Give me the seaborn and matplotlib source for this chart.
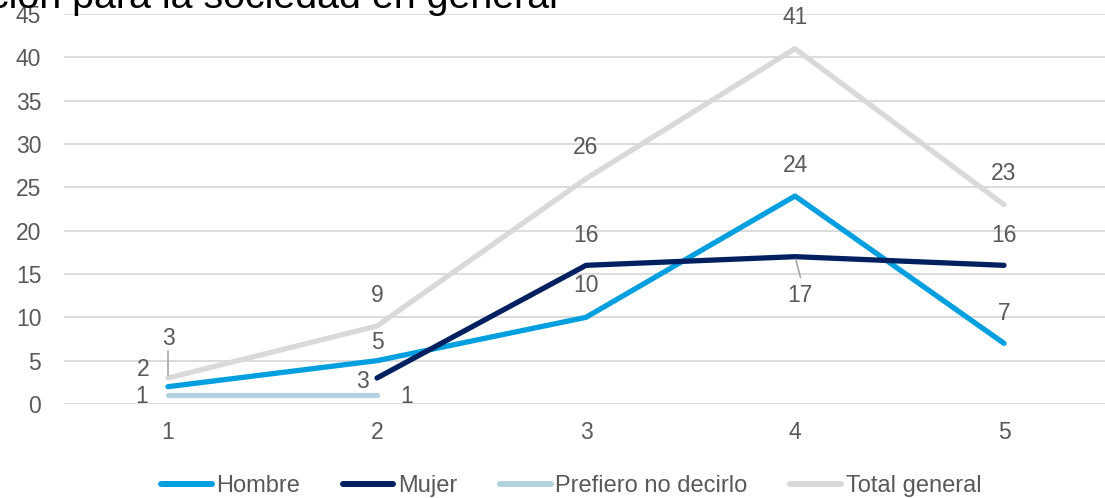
import pandas as pd
import matplotlib.pyplot as plt
import seaborn as sns
import numpy as np

# datos
categorias = [1, 2, 3, 4, 5]
hombre = [2, 5, 10, 24, 7]
mujer = [np.nan, 3, 16, 17, 16]
prefiero = [1, 1, np.nan, np.nan, np.nan]
total = [3, 9, 26, 41, 23]
series = ['Hombre', 'Mujer', 'Prefiero no decirlo', 'Total general']
colores = ['#009FE0', '#00205F', '#B3D2E0', '#D9D9D9']
titulo = 'ción para la sociedad en general'

df = pd.DataFrame({
    'cat': categorias * 4,
    'valor': hombre + mujer + prefiero + total,
    'serie': sum([[s] * 5 for s in series], []),
})

sns.set_style('white')
plt.rcParams['font.family'] = ['Liberation Sans', 'DejaVu Sans']

fig = plt.figure(figsize=(11.05, 4.98), dpi=100)
ax = fig.add_axes([63.5 / 1105, 94 / 498, 1045 / 1105, 390 / 498])

# dibujar en orden de Excel (Total detrás)
orden = ['Total general', 'Prefiero no decirlo', 'Hombre', 'Mujer']
for s in orden:
    sub = df[df.serie == s].dropna()
    sns.lineplot(data=sub, x='cat', y='valor', color=colores[series.index(s)],
                 lw=3.8, ax=ax, solid_capstyle='round', label=s)

ax.set_xlim(0.5, 5.5)
ax.set_ylim(0, 45)
ax.set_yticks(range(0, 46, 5))
ax.set_xticks(categorias)
ax.grid(axis='y', color='#D9D9D9', lw=1.3)
ax.set_axisbelow(True)
for sp in ax.spines.values():
    sp.set_visible(False)
ax.tick_params(axis='both', length=0, labelsize=16.5, labelcolor='#595959')
ax.tick_params(axis='y', pad=16)
ax.tick_params(axis='x', pad=12)
ax.set_xlabel('')
ax.set_ylabel('')

# etiquetas de datos (desplazamientos en px)
offs = {
    'Hombre': [(-25, 17), (0, 18), (0, 32), (0, 31), (0, 30)],
    'Mujer': [None, (-15, -3), (0, 30), (5, -39), (0, 30)],
    'Prefiero no decirlo': [(-26, -1), (30, -1), None, None, None],
    'Total general': [(0, 40), (0, 31), (0, 31), (0, 31), (0, 31)],
}
valores = {'Hombre': hombre, 'Mujer': mujer, 'Prefiero no decirlo': prefiero,
           'Total general': total}
for s in series:
    for c, v, o in zip(categorias, valores[s], offs[s]):
        if o is None or np.isnan(v):
            continue
        ax.annotate(f'{int(v)}', (c, v), xytext=(o[0] * 0.72, o[1] * 0.72),
                    textcoords='offset points', ha='center', va='center',
                    fontsize=16.5, color='#595959')

# líneas guía
ax.annotate('', (1, total[0]), xytext=(0, 27 * 0.72), textcoords='offset points',
            arrowprops=dict(arrowstyle='-', color='#A6A6A6', lw=1.2,
                            shrinkA=0, shrinkB=2))
ax.annotate('', (4, mujer[3]), xytext=(4, -21 * 0.72), textcoords='offset points',
            arrowprops=dict(arrowstyle='-', color='#A6A6A6', lw=1.2,
                            shrinkA=0, shrinkB=2))

handles, labels = ax.get_legend_handles_labels()
hl = dict(zip(labels, handles))
leg = ax.legend([hl[s] for s in series], series, loc='center',
                bbox_to_anchor=(571 / 1105, 12 / 498), bbox_transform=fig.transFigure,
                ncol=4, frameon=False, fontsize=17, labelcolor='#595959',
                handlelength=2.15, handletextpad=0.2, columnspacing=1.8)
for ln in leg.get_lines():
    ln.set_linewidth(4.3)

fig.text(-11 / 1105, 490 / 498, titulo, fontsize=28.4, color='black', va='baseline')

fig.savefig('out.png', dpi=100)
